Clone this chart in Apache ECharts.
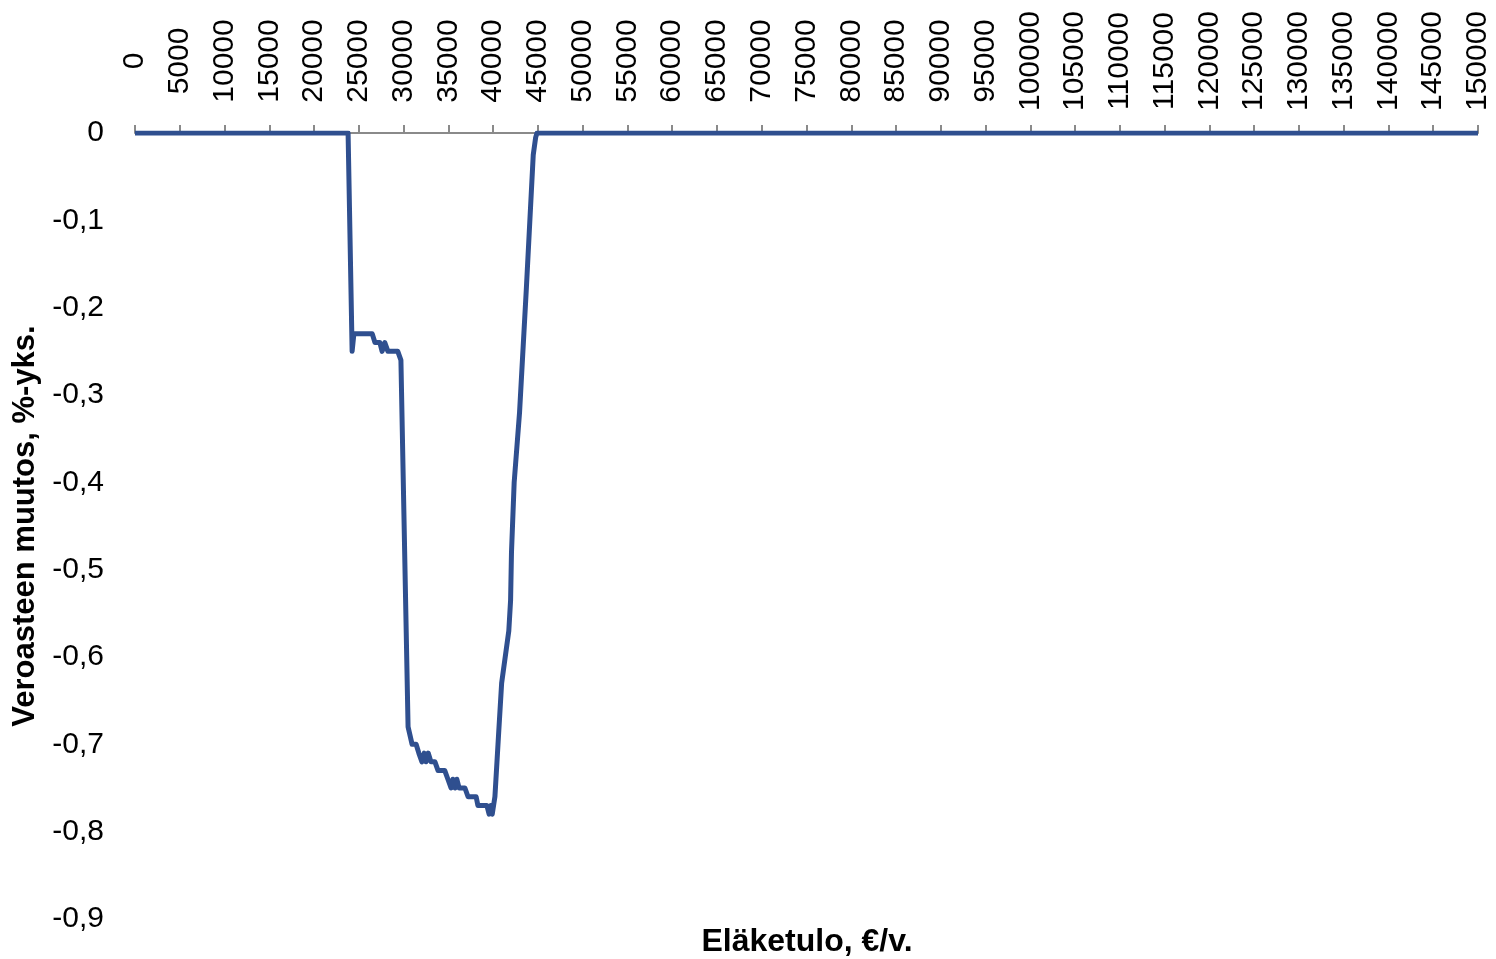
<!DOCTYPE html>
<html>
<head>
<meta charset="utf-8">
<script src="https://cdn.jsdelivr.net/npm/echarts@6/dist/echarts.min.js"></script>
<style>
html,body{margin:0;padding:0;background:#fff;}
#chart{width:1496px;height:959px;}
</style>
</head>
<body>
<div id="chart"></div>
<script>
// Eläketulo (€/v.)
var incomes = [0, 23800, 24250, 24450, 26500, 26800, 27350, 27600, 27900, 28250, 29350, 29700, 30500, 30950, 31400, 31700, 32050, 32300, 32500, 32750, 33050, 33500, 33850, 34600, 34950, 35300, 35500, 35750, 35950, 36200, 36850, 37200, 38100, 38300, 39300, 39550, 39750, 39900, 40200, 40600, 40950, 41750, 41950, 42050, 42350, 42950, 43700, 44480, 44750, 44900, 150000];
// Veroasteen muutos (%-yks.)
var changes = [0, 0, -0.25, -0.23, -0.23, -0.24, -0.24, -0.25, -0.24, -0.25, -0.25, -0.26, -0.68, -0.70, -0.70, -0.71, -0.72, -0.71, -0.72, -0.71, -0.72, -0.72, -0.73, -0.73, -0.74, -0.75, -0.74, -0.75, -0.74, -0.75, -0.75, -0.76, -0.76, -0.77, -0.77, -0.78, -0.77, -0.78, -0.76, -0.69, -0.63, -0.57, -0.535, -0.48, -0.40, -0.32, -0.18, -0.025, -0.005, 0, 0];
var xTitle = 'Eläketulo, €/v.';
var yTitle = 'Veroasteen muutos, %-yks.';

var FONT = '"Liberation Sans", Arial, sans-serif';
var data = incomes.map(function (x, i) { return [x, changes[i]]; });

var chart = echarts.init(document.getElementById('chart'));
chart.setOption({
  animation: false,
  backgroundColor: '#fff',
  title: {
    text: xTitle,
    left: 802,
    top: 921,
    textAlign: 'center',
    textStyle: { fontFamily: FONT, fontSize: 32, fontWeight: 'bold', color: '#000' }
  },
  grid: { left: 135, right: 18, top: 133, bottom: 40, containLabel: false },
  xAxis: {
    type: 'value',
    position: 'top',
    min: 0,
    max: 150000,
    interval: 5000,
    axisLine: { show: true, onZero: false, lineStyle: { color: '#8a8a8a', width: 2 } },
    axisTick: { show: true, inside: false, length: 8, lineStyle: { color: '#8a8a8a', width: 2 } },
    splitLine: { show: false },
    axisLabel: {
      rotate: -90,
      margin: 72,
      align: 'center',
      verticalAlign: 'middle',
      fontFamily: FONT,
      fontSize: 30,
      color: '#000',
      showMinLabel: true,
      showMaxLabel: true,
      hideOverlap: false,
      formatter: function (v) { return String(Math.round(v)); }
    }
  },
  yAxis: {
    type: 'value',
    min: -0.9,
    max: 0,
    interval: 0.1,
    name: yTitle,
    nameLocation: 'middle',
    nameGap: 91,
    nameTextStyle: { fontFamily: FONT, fontSize: 31, fontWeight: 'bold', color: '#000' },
    axisLine: { show: false },
    axisTick: { show: false },
    splitLine: { show: false },
    axisLabel: {
      margin: 31,
      fontFamily: FONT,
      fontSize: 30,
      color: '#000',
      formatter: function (v) {
        var r = Math.round(v * 10) / 10;
        if (r === 0) return '0';
        return r.toFixed(1).replace('.', ',');
      }
    }
  },
  series: [{
    type: 'line',
    data: data,
    showSymbol: false,
    symbol: 'none',
    lineStyle: { color: '#2F4F8F', width: 5, join: 'round' },
    itemStyle: { color: '#2F4F8F' },
    z: 3
  }]
});
</script>
</body>
</html>
